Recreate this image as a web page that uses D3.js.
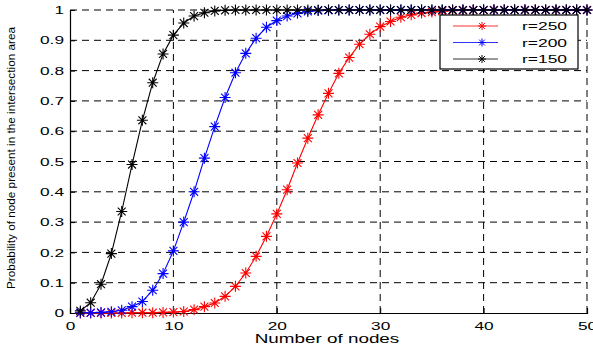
<!DOCTYPE html>
<html>
<head>
<meta charset="utf-8">
<script src="https://cdn.jsdelivr.net/npm/d3@7"></script>
<style>
  body { margin: 0; background: #fff; }
  svg { display: block; }
  text { font-family: "Liberation Sans", Arial, sans-serif; fill: #000; }
</style>
</head>
<body>
<svg width="593" height="349"></svg>
<script>
// number of nodes 1..50
const NODES = d3.range(1, 51);

// r = 250 (red)
const R250 = [0, 0, 0, 0, 0, 0.001, 0.001, 0.001, 0.002, 0.003,
  0.005, 0.011, 0.021, 0.033, 0.055, 0.088, 0.132, 0.187, 0.253, 0.327,
  0.407, 0.495, 0.577, 0.654, 0.725, 0.791, 0.843, 0.887, 0.92, 0.945,
  0.962, 0.976, 0.984, 0.99, 0.993, 0.996, 0.998, 0.999, 1, 1,
  1, 1, 1, 1, 1, 1, 1, 1, 1, 1];

// r = 200 (blue)
const R200 = [0.001, 0.001, 0.002, 0.004, 0.009, 0.021, 0.038, 0.075, 0.13, 0.205,
  0.3, 0.4, 0.511, 0.615, 0.711, 0.793, 0.857, 0.907, 0.943, 0.965,
  0.98, 0.989, 0.995, 0.998, 0.999, 1, 1, 1, 1, 1,
  1, 1, 1, 1, 1, 1, 1, 1, 1, 1,
  1, 1, 1, 1, 1, 1, 1, 1, 1, 1];

// r = 150 (black)
const R150 = [0.007, 0.034, 0.095, 0.196, 0.335, 0.49, 0.636, 0.76, 0.855, 0.917,
  0.957, 0.98, 0.991, 0.997, 0.999, 1, 1, 1, 1, 1,
  1, 1, 1, 1, 1, 1, 1, 1, 1, 1,
  1, 1, 1, 1, 1, 1, 1, 1, 1, 1,
  1, 1, 1, 1, 1, 1, 1, 1, 1, 1];

const SERIES_NAMES = ["r=250", "r=200", "r=150"];
const SERIES_COLORS = ["#ff0000", "#0000ff", "#000000"];
const X_TICKS = [0, 10, 20, 30, 40, 50];
const Y_TICKS = [0, 0.1, 0.2, 0.3, 0.4, 0.5, 0.6, 0.7, 0.8, 0.9, 1];

const series = [R250, R200, R150].map((vals, i) => ({
  name: SERIES_NAMES[i], color: SERIES_COLORS[i],
  points: NODES.map((n, j) => ({ x: n, y: vals[j] }))
}));

const svg = d3.select('svg');
const x = d3.scaleLinear().domain([0, 50]).range([70, 587]);
const y = d3.scaleLinear().domain([0, 1]).range([313, 10]);

// stretch text horizontally like the original export
function widen(sel, k) {
  sel.each(function () {
    const w = this.getComputedTextLength();
    d3.select(this).attr('textLength', w * k).attr('lengthAdjust', 'spacingAndGlyphs');
  });
}

// grid (dashed)
svg.append('g').selectAll('line')
  .data(X_TICKS.slice(1))
  .join('line')
  .attr('x1', d => x(d)).attr('x2', d => x(d))
  .attr('y1', y(0)).attr('y2', y(1))
  .attr('stroke', '#000').attr('stroke-width', 1)
  .attr('stroke-dasharray', '7,5');

svg.append('g').selectAll('line')
  .data(Y_TICKS.slice(1))
  .join('line')
  .attr('x1', x(0)).attr('x2', x(50))
  .attr('y1', d => y(d)).attr('y2', d => y(d))
  .attr('stroke', '#000').attr('stroke-width', 1)
  .attr('stroke-dasharray', '7,5');

// axes
const xAxis = svg.append('g')
  .attr('transform', `translate(0,${y(0)})`)
  .call(d3.axisBottom(x).tickValues(X_TICKS).tickSize(-5).tickPadding(9).tickFormat(d3.format('d')));
const yAxis = svg.append('g')
  .attr('transform', `translate(${x(0)},0)`)
  .call(d3.axisLeft(y).tickValues(Y_TICKS).tickSize(-5).tickPadding(6).tickFormat(d => d === 0 || d === 1 ? d : d.toFixed(1)));

[xAxis, yAxis].forEach(a => {
  a.select('.domain').attr('stroke', '#000').attr('stroke-width', 1.2);
  a.selectAll('.tick line').attr('stroke', '#000');
  a.selectAll('text').attr('font-size', 11.5).attr('font-family', '"Liberation Sans", Arial, sans-serif');
});
widen(xAxis.selectAll('text'), 1.5);
widen(yAxis.selectAll('text'), 1.5);

// star marker (MATLAB '*')
function starPath(cx, cy, r) {
  const d = r * 0.72;
  return `M${cx - r},${cy}L${cx + r},${cy}M${cx},${cy - r}L${cx},${cy + r}` +
    `M${cx - d},${cy - d}L${cx + d},${cy + d}M${cx - d},${cy + d}L${cx + d},${cy - d}`;
}

const line = d3.line().x(d => x(d.x)).y(d => y(d.y));

series.forEach(s => {
  const g = svg.append('g');
  g.append('path')
    .datum(s.points)
    .attr('d', line)
    .attr('fill', 'none')
    .attr('stroke', s.color)
    .attr('stroke-width', 1.1);
  g.selectAll('.mk')
    .data(s.points)
    .join('path')
    .attr('class', 'mk')
    .attr('d', d => starPath(x(d.x), y(d.y), 5.5))
    .attr('stroke', s.color)
    .attr('stroke-width', 1.1)
    .attr('fill', 'none');
});

// labels
const xl = svg.append('text')
  .attr('x', 327).attr('y', 343)
  .attr('text-anchor', 'middle')
  .attr('font-size', 13)
  .text('Number of nodes');
widen(xl, 1.45);

svg.append('text')
  .attr('transform', 'translate(15,158) rotate(-90)')
  .attr('text-anchor', 'middle')
  .attr('font-size', 11)
  .attr('textLength', 262)
  .attr('lengthAdjust', 'spacingAndGlyphs')
  .text('Probability of node present in the intersection area');

// legend
const lg = svg.append('g');
lg.append('rect')
  .attr('x', 440).attr('y', 15).attr('width', 138).attr('height', 54)
  .attr('fill', '#fff').attr('stroke', '#000').attr('stroke-width', 1.2);
const rows = lg.selectAll('g.row')
  .data(series)
  .join('g')
  .attr('class', 'row')
  .attr('transform', (d, i) => `translate(0,${26 + i * 16.5})`);
rows.append('line')
  .attr('x1', 453).attr('x2', 498).attr('y1', 0).attr('y2', 0)
  .attr('stroke', d => d.color).attr('stroke-width', 1).attr('opacity', 0.8);
rows.append('path')
  .attr('d', starPath(482, 0, 4))
  .attr('stroke', d => d.color).attr('stroke-width', 1).attr('fill', 'none');
const lt = rows.append('text')
  .attr('x', 522).attr('y', 4)
  .attr('font-size', 11.5)
  .text(d => d.name);
lt.attr('textLength', 45).attr('lengthAdjust', 'spacingAndGlyphs');
</script>
</body>
</html>
